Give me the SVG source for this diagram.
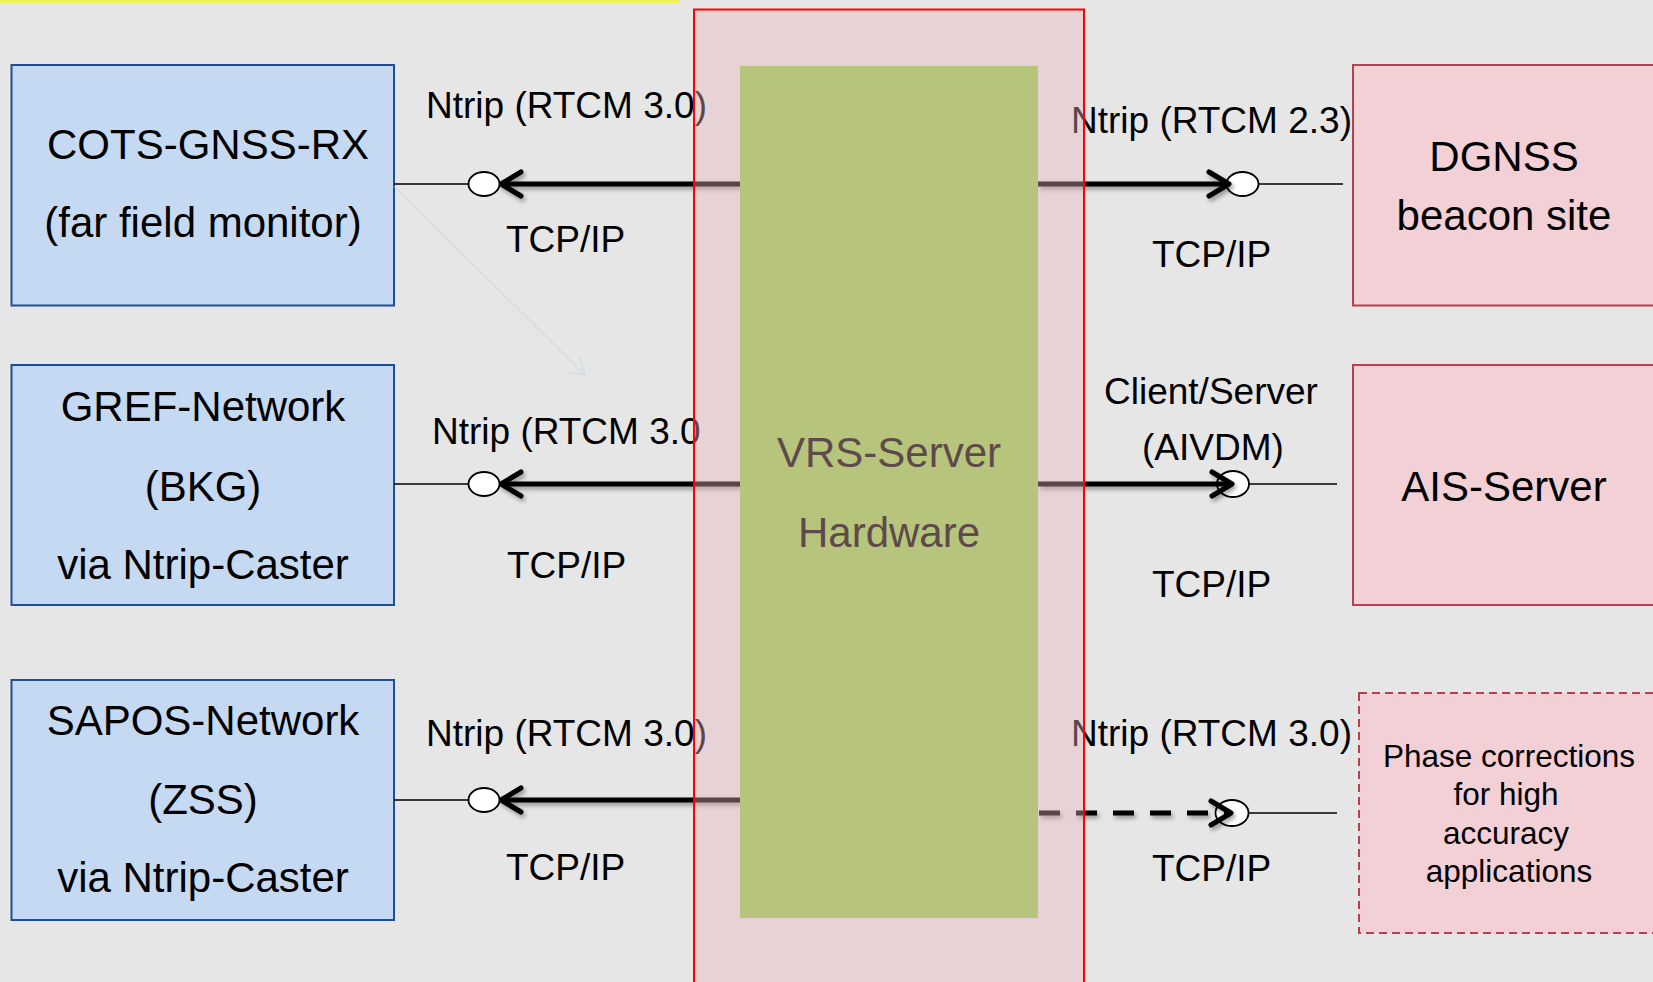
<svg xmlns="http://www.w3.org/2000/svg" width="1653" height="982" viewBox="0 0 1653 982">
  <style>
    .lbl { font-family: "Liberation Sans", Arial, sans-serif; font-size: 37px; fill: #000; }
    .big { font-family: "Liberation Sans", Arial, sans-serif; font-size: 42px; fill: #000; text-anchor: middle; }
    .small { font-family: "Liberation Sans", Arial, sans-serif; font-size: 31.5px; fill: #000; text-anchor: middle; }
    .vrs { font-family: "Liberation Sans", Arial, sans-serif; font-size: 42px; fill: #5e4a4c; text-anchor: middle; }
    .src { fill: #c6d9f2; stroke: #1f4e99; stroke-width: 2; }
    .dst { fill: #f2d0d5; stroke: #b83f4e; stroke-width: 2; }
    .dst-dash { fill: #f2d0d5; stroke: #b83f4e; stroke-width: 2; stroke-dasharray: 8 5; }
    .thin { stroke: #000; stroke-width: 1.6; fill: none; }
    .port { fill: #fff; stroke: #000; stroke-width: 1.8; }
    .flow { stroke: #000; stroke-width: 5; fill: none; stroke-linecap: butt; }
    .head { stroke: #000; stroke-width: 5; fill: none; stroke-linecap: round; stroke-linejoin: round; }
    .dash { stroke-dasharray: 21 16; }
  </style>
  <defs>
    <filter id="shadow" x="-10%" y="-200%" width="120%" height="500%">
      <feDropShadow dx="2" dy="3" stdDeviation="2" flood-color="#000" flood-opacity="0.35"/>
    </filter>
  </defs>

  <!-- page -->
  <rect x="0" y="0" width="1653" height="982" fill="#e6e6e6"/>
  <rect x="0" y="0" width="680" height="3" fill="#eeee55"/>

  <!-- source nodes -->
  <g id="cots-gnss-rx">
    <rect class="src" x="11.5" y="65" width="382.5" height="240.5"/>
    <text class="big" x="208" y="159">COTS-GNSS-RX</text>
    <text class="big" x="203" y="237">(far field monitor)</text>
  </g>
  <g id="gref-network">
    <rect class="src" x="11.5" y="365" width="382.5" height="240"/>
    <text class="big" x="203" y="421">GREF-Network</text>
    <text class="big" x="203" y="501">(BKG)</text>
    <text class="big" x="203" y="579">via Ntrip-Caster</text>
  </g>
  <g id="sapos-network">
    <rect class="src" x="11.5" y="680" width="382.5" height="240"/>
    <text class="big" x="203" y="735">SAPOS-Network</text>
    <text class="big" x="203" y="814">(ZSS)</text>
    <text class="big" x="203" y="892">via Ntrip-Caster</text>
  </g>

  <!-- consumer nodes -->
  <g id="dgnss-beacon">
    <rect class="dst" x="1353" y="65" width="310" height="240.5"/>
    <text class="big" x="1504" y="171">DGNSS</text>
    <text class="big" x="1504" y="230">beacon site</text>
  </g>
  <g id="ais-server">
    <rect class="dst" x="1353" y="365" width="310" height="240"/>
    <text class="big" x="1504" y="501">AIS-Server</text>
  </g>
  <g id="phase-corrections">
    <rect class="dst-dash" x="1359" y="693" width="310" height="240"/>
    <text class="small" x="1509" y="767">Phase corrections</text>
    <text class="small" x="1506" y="805">for high</text>
    <text class="small" x="1506" y="844">accuracy</text>
    <text class="small" x="1509" y="882">applications</text>
  </g>

  <!-- diagonal pointer -->
  <g id="pointer" stroke="#d0dde4" stroke-width="1.6" fill="none" stroke-linecap="round">
    <line x1="395" y1="187" x2="585" y2="375"/>
    <polyline points="580,357 585,375 567,372"/>
  </g>

  <!-- connectors -->
  <g id="connectors">
    <!-- left: servers feed the sources' casters -->
    <line class="thin" x1="394" y1="184" x2="468.5" y2="184"/>
    <g filter="url(#shadow)">
      <line class="flow" x1="740" y1="184" x2="502" y2="184"/>
      <polyline class="head" points="521,172 501,184 521,196"/>
    </g>
    <ellipse class="port" cx="484" cy="184" rx="15.5" ry="12"/>

    <line class="thin" x1="394" y1="484" x2="468.5" y2="484"/>
    <g filter="url(#shadow)">
      <line class="flow" x1="740" y1="484" x2="502" y2="484"/>
      <polyline class="head" points="521,472 501,484 521,496"/>
    </g>
    <ellipse class="port" cx="484" cy="484" rx="15.5" ry="12"/>

    <line class="thin" x1="394" y1="800" x2="468.5" y2="800"/>
    <g filter="url(#shadow)">
      <line class="flow" x1="740" y1="800" x2="502" y2="800"/>
      <polyline class="head" points="521,788 501,800 521,812"/>
    </g>
    <ellipse class="port" cx="484" cy="800" rx="15.5" ry="12"/>

    <!-- right: server outputs -->
    <ellipse class="port" cx="1242.5" cy="184" rx="16" ry="12"/>
    <line class="thin" x1="1258.5" y1="184" x2="1343" y2="184"/>
    <g filter="url(#shadow)">
      <line class="flow" x1="1038" y1="184" x2="1226" y2="184"/>
      <polyline class="head" points="1209,172 1229,184 1209,196"/>
    </g>

    <ellipse class="port" cx="1233" cy="484" rx="16" ry="13"/>
    <line class="thin" x1="1249" y1="484" x2="1337" y2="484"/>
    <g filter="url(#shadow)">
      <line class="flow" x1="1038" y1="484" x2="1229" y2="484"/>
      <polyline class="head" points="1212,472 1232,484 1212,496"/>
    </g>

    <ellipse class="port" cx="1232" cy="813" rx="16.5" ry="13"/>
    <line class="thin" x1="1248.5" y1="813" x2="1337" y2="813"/>
    <g filter="url(#shadow)">
      <line class="flow dash" x1="1039" y1="813" x2="1228" y2="813"/>
      <polyline class="head" points="1211,801 1231,813 1211,825"/>
    </g>
  </g>

  <!-- connector labels -->
  <g id="labels">
    <text class="lbl" x="426" y="118">Ntrip (RTCM 3.0)</text>
    <text class="lbl" x="506" y="252">TCP/IP</text>
    <text class="lbl" x="432" y="444">Ntrip (RTCM 3.0</text>
    <text class="lbl" x="507" y="578">TCP/IP</text>
    <text class="lbl" x="426" y="746">Ntrip (RTCM 3.0)</text>
    <text class="lbl" x="506" y="880">TCP/IP</text>

    <text class="lbl" x="1071" y="133">Ntrip (RTCM 2.3)</text>
    <text class="lbl" x="1152" y="267">TCP/IP</text>
    <text class="lbl" x="1104" y="404">Client/Server</text>
    <text class="lbl" x="1142" y="460">(AIVDM)</text>
    <text class="lbl" x="1152" y="597">TCP/IP</text>
    <text class="lbl" x="1071" y="746">Ntrip (RTCM 3.0)</text>
    <text class="lbl" x="1152" y="881">TCP/IP</text>
  </g>

  <!-- translucent server enclosure drawn over the wiring -->
  <g id="vrs-server">
    <rect x="694" y="9.5" width="390" height="990" fill="#e8b4b9" fill-opacity="0.39" stroke="#ff0000" stroke-width="2"/>
    <rect x="740" y="66" width="298" height="852" fill="#b6c57b"/>
    <text class="vrs" x="889" y="467">VRS-Server</text>
    <text class="vrs" x="889" y="547">Hardware</text>
  </g>
</svg>
